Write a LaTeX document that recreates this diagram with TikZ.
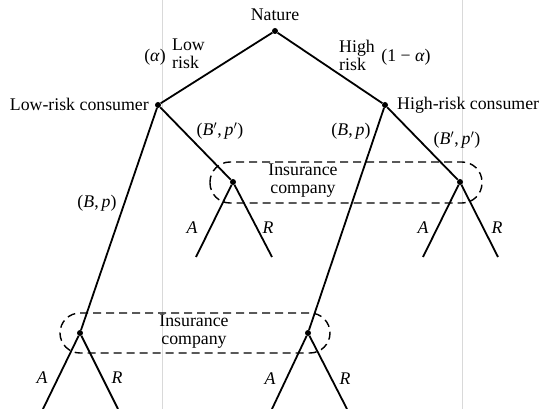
\documentclass[tikz,border=0pt]{standalone}
\usepackage{fontspec}
\setmainfont{Liberation Serif}
\begin{document}
\begin{tikzpicture}[x=1pt,y=-1pt,
  lbl/.style={font=\fontsize{17.8}{18}\selectfont, inner sep=0pt},
  branch/.style={line width=1.8pt},
  dot/.style={circle, fill=black, minimum size=6pt, inner sep=0pt},
  infoset/.style={line width=1.4pt, dash pattern=on 8pt off 5pt, rounded corners=20pt},
  faint/.style={gray!30, line width=0.8pt}]
\useasboundingbox (0,0) rectangle (542,409);
% faint scan lines
\draw[faint] (162,0) -- (162,409);
\draw[faint] (462,0) -- (462,409);
% decision nodes
\node[dot] (nat) at (275,31) {};
\node[dot] (lr) at (158,105) {};
\node[dot] (hr) at (385,105) {};
\node[dot] (i1) at (233,182) {};
\node[dot] (i2) at (460,182) {};
\node[dot] (i3) at (80,333) {};
\node[dot] (i4) at (308,333) {};
% terminal ends
\coordinate (i1A) at (196,257);
\coordinate (i1R) at (272,257);
\coordinate (i2A) at (423,257);
\coordinate (i2R) at (498,257);
\coordinate (i3A) at (43,409);
\coordinate (i3R) at (118,409);
\coordinate (i4A) at (272,409);
\coordinate (i4R) at (347,409);
% branches
\draw[branch] (nat) -- (lr);
\draw[branch] (nat) -- (hr);
\draw[branch] (lr) -- (i1);
\draw[branch] (lr) -- (i3);
\draw[branch] (hr) -- (i2);
\draw[branch] (hr) -- (i4);
\draw[branch] (i1) -- (i1A);
\draw[branch] (i1) -- (i1R);
\draw[branch] (i2) -- (i2A);
\draw[branch] (i2) -- (i2R);
\draw[branch] (i3) -- (i3A);
\draw[branch] (i3) -- (i3R);
\draw[branch] (i4) -- (i4A);
\draw[branch] (i4) -- (i4R);
% information sets
\draw[infoset] (210,162) rectangle (482,203);
\draw[infoset] (60,313) rectangle (330,353);
% labels
\node[lbl] (tnat) at (275,15) {Nature};
\node[lbl, anchor=east] (tlr) at (149,104) {Low-risk consumer};
\node[lbl, anchor=west] (thr) at (397,105) {High-risk consumer};
\node[lbl, align=left, anchor=west] (tlow) at (172,54) {Low\\risk};
\node[lbl] (ta) at (155,57) {(\textit{α})};
\node[lbl, align=left] (thigh) at (357,55) {High\\risk};
\node[lbl] (t1a) at (406,57) {(1 − \textit{α})};
\node[lbl] (tbp1) at (220,131) {(\textit{B}$'$,\,\textit{p}$'$)};
\node[lbl] (tbp2) at (351,131) {(\textit{B},\,\textit{p})};
\node[lbl] (tbp3) at (457,140) {(\textit{B}$'$,\,\textit{p}$'$)};
\node[lbl] (tbp4) at (97,203) {(\textit{B},\,\textit{p})};
\node[lbl, align=center] (tic1) at (303,181) {Insurance\\company};
\node[lbl, align=center] (tic2) at (194,332) {Insurance\\company};
\node[lbl] (a1) at (192,228) {\textit{A}};
\node[lbl] (r1) at (268,228) {\textit{R}};
\node[lbl] (a2) at (423,228) {\textit{A}};
\node[lbl] (r2) at (497,228) {\textit{R}};
\node[lbl] (a3) at (42,378) {\textit{A}};
\node[lbl] (r3) at (117,378) {\textit{R}};
\node[lbl] (a4) at (270,379) {\textit{A}};
\node[lbl] (r4) at (345,379) {\textit{R}};
\end{tikzpicture}
\end{document}
